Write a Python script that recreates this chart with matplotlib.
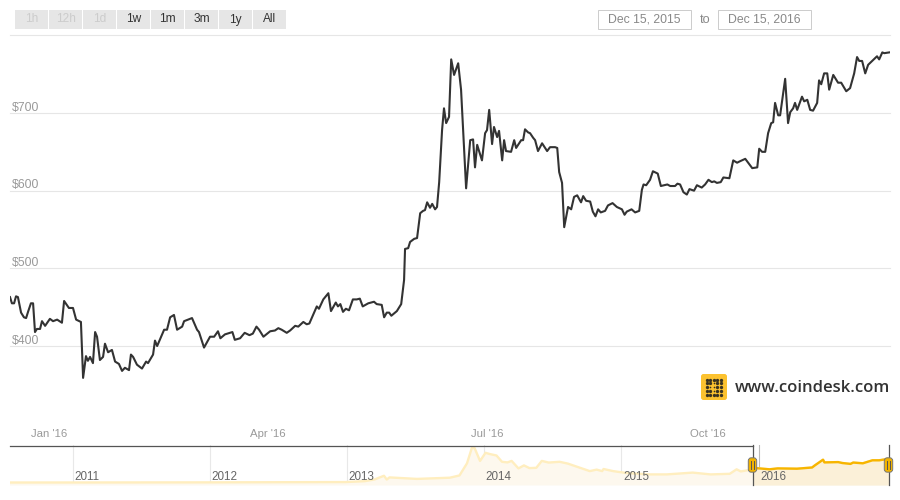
import numpy as np
import matplotlib
matplotlib.use("Agg")
import matplotlib.pyplot as plt
from matplotlib.patches import Rectangle, FancyBboxPatch
from matplotlib.transforms import blended_transform_factory

plt.rcParams["font.family"] = ["Liberation Sans", "DejaVu Sans"]

# days since Dec 15, 2015 and USD price
days = [0, .8, 1.7, 2.5, 3.3, 4.6, 5.8, 6.7, 7.5, 8.7, 9.6, 10.4, 11.2, 12.5, 13.3, 14.6, 16.6, 17.9, 19.6, 21.6,
        22.5, 24.5, 26.2, 27.5, 29.5, 30.4, 31.6, 32.4, 33.3, 34.5, 35.4, 36.2, 37.4, 38.7, 39.5, 40.8, 42.4, 43.7,
        45.3, 46.6, 47.8, 49.5, 50.3, 51.2, 52.8, 54.9, 56.6, 57.4, 59.5, 60.3, 61.2, 64.1, 65.3, 66.6, 68.2, 69.5,
        71.6, 72.4, 75.7, 77.8, 78.6, 80.7,
        83.2, 84.9, 86.5, 87.5, 89.4, 92.5, 93.5, 95.7, 97.6, 99.6, 101, 102.5, 103.6, 105.4, 108.2, 110.2, 111.6, 113,
        115.1, 116.5, 118.6, 119.9, 122, 123.4, 124.5, 127.6, 128.5, 130.3, 132.4, 133.5, 135.5, 136.4, 137.4, 138.5,
        139.7, 141, 142.6, 144.2, 145.5, 146.7, 149, 151.4, 152.5, 154.6, 155.6, 156.7, 157.7, 158.6, 160.9, 162.7,
        163.4, 163.9, 164.3, 165.6, 166.4, 168.1, 169.3, 170.6, 171.8, 172.6, 173.5, 174.7, 175.6,
        176.8, 177.6, 178.5, 179.7, 180.5, 181.4, 182.6, 183.5, 184.7, 186.4, 187.6, 189.7, 191.4, 192.6, 193.4, 194.3,
        196.3, 197.6, 198.4, 199.3, 200.5, 201.3, 202.6, 203.4, 204.7, 205.5, 206.3, 208.4, 209.7, 210.5, 212.6, 213.4,
        214.2, 215.5, 216.3, 217.6, 218.4, 219.6, 221.3, 223.4, 224.6, 226.7, 227.6, 228.4, 229.6, 230.5, 232.1, 233.4,
        234.6, 235.9, 237.5, 238.4, 239.6,
        241.3, 242.4, 243.5, 244.6, 245.7, 247.5, 248.7, 250.6, 252.4, 254.5, 255.6, 256.5, 258.5, 260, 261.7, 262.8,
        263.5, 264.6, 266.2, 267.4, 269.4, 270.7, 273.4, 274.6, 276.6, 277.6, 278.7, 280.1, 281.5, 282.6, 284.5, 285.7,
        287.7, 289.1, 290.5, 291.9, 292.9, 294, 295.6, 296.7, 299.2,
        300.8, 302.4, 303.7, 305.8, 307, 308.7, 310.8, 311.6, 312.8, 314.1, 315.3, 316.6, 317.4, 318.2,
        319.5, 320.3, 322.4, 323.6, 324.5, 325.7, 326.5, 327.4, 329.4, 330.3, 331.6, 332.8, 334, 335.7, 336.5, 337.4,
        338.6, 339.9, 340.7, 342.4, 344.4, 345.7, 347.8, 349.4, 351.1, 352.3, 353.2, 354.4, 355.7, 356.9, 360.6, 361.5,
        362.8, 363.6, 365.7]
price = [463, 455, 455, 464, 463, 443, 437, 436, 444, 455, 455, 418, 422, 422, 432, 426, 435, 432, 434, 430,
         458, 449, 449, 434, 431, 359, 387, 381, 386, 378, 418, 412, 382, 386, 403, 392, 395, 380,
         377, 368, 372, 369, 389, 386, 376, 371, 380, 378, 389, 407, 400, 421, 421, 437, 440, 421,
         425, 432, 436, 421, 418, 398,
         412, 412, 419, 410, 415, 418, 408, 410, 417, 414, 416, 425, 421, 412, 419, 420, 423, 421,
         417, 420, 426, 425, 431, 428, 429, 451, 448, 460, 468, 445, 456, 451, 454, 444,
         448, 446, 460, 460, 461, 451, 455, 457, 454, 453, 437, 443, 443, 439, 445, 454,
         472, 485, 525, 526, 534, 538, 539, 571, 574, 575, 585, 578, 583,
         576, 579, 611, 678, 706, 687, 695, 769, 749, 764, 730, 603, 665, 666, 630, 659,
         639, 674, 678, 704, 660, 682, 669, 677, 639, 665, 651, 650, 665, 655, 665, 665,
         679, 675, 674, 668, 665, 651, 661, 651, 656, 656, 655, 624, 610, 553, 579, 576,
         592, 594, 585, 593, 587,
         586, 573, 567, 576, 572, 574, 581, 584, 579, 576, 569, 573, 576, 572, 574, 601,
         608, 607, 614, 625, 622, 606, 608, 606, 606, 609, 608, 598, 595, 602, 600, 607,
         604, 608, 614, 611, 612, 610, 611, 617, 616,
         639, 636, 638, 641, 636, 629, 630, 654, 650, 650, 674, 687, 688, 713,
         697, 697, 744, 687, 701, 706, 713, 704, 721, 715, 717, 704, 703, 713, 742, 737,
         751, 751, 730, 749, 739, 739, 728, 732, 751, 772, 767, 767, 751, 762, 773, 769,
         778, 777, 778]

y_ticks = [400, 500, 600, 700, 800]
y_labels = ["$400", "$500", "$600", "$700"]
month_days = [17, 108, 199, 291]
month_labels = ["Jan '16", "Apr '16", "Jul '16", "Oct '16"]

# navigator, whole history
nav_years = [2010.54, 2011, 2012, 2012.99, 2013.13, 2013.2, 2013.27, 2013.29, 2013.31, 2013.51, 2013.75, 2013.82,
             2013.875, 2013.91, 2013.93, 2013.97, 2014.01, 2014.04, 2014.09, 2014.13, 2014.17, 2014.2, 2014.25,
             2014.29, 2014.33, 2014.38, 2014.42, 2014.47, 2014.55, 2014.61, 2014.68, 2014.77, 2014.82, 2014.86,
             2014.87, 2014.94, 2015.04, 2015.21, 2015.33, 2015.52, 2015.65, 2015.79, 2015.84, 2015.87, 2015.95,
             2015.98, 2016.08, 2016.14, 2016.28, 2016.39, 2016.41, 2016.47, 2016.48, 2016.58, 2016.61, 2016.67,
             2016.69, 2016.76, 2016.83, 2016.88, 2016.947]
nav_price = [0, 1, 5, 15, 45, 100, 225, 100, 170, 120, 160, 235,
             640, 1150, 1150, 720, 990, 950, 900, 690, 670, 720, 470,
             570, 480, 490, 720, 665, 690, 630, 520, 380, 430, 380,
             450, 380, 315, 270, 270, 330, 270, 290, 440, 370, 430,
             480, 440, 470, 460, 500, 570, 760, 670, 680, 650, 620,
             665, 640, 740, 740, 790]
nav_ticks = [2011, 2012, 2013, 2014, 2015, 2016]
sel_start, sel_end = 2015.956, 2016.947


def px_axes(fig, x0, y0, x1, y1):
    # axes from pixel box, y counted from the top
    return fig.add_axes([x0 / 900, 1 - y1 / 500, (x1 - x0) / 900, (y1 - y0) / 500])


fig = plt.figure(figsize=(9, 5), dpi=100, facecolor="white")

# main chart
ax = px_axes(fig, 10, 35, 890, 445)
ax.set_xlim(0, 366)
ax.set_ylim(272.6, 800.4)
ax.axis("off")
for t in y_ticks:
    ax.axhline(t, color="#e6e6e6", lw=0.8, zorder=1, clip_on=False)
ax.plot(days, price, color="#333333", lw=1.5, solid_joinstyle="round", zorder=3)
for t, lab in zip(y_ticks, y_labels):
    ax.text(0.9, t + 7, lab, color="#999999", fontsize=8.8, ha="left", va="center")
for d, lab in zip(month_days, month_labels):
    ax.text(d - 0.7, 287, lab, color="#999999", fontsize=8.2, ha="center", va="center")

# navigator
nav = px_axes(fig, 10, 445, 890, 485)
nav.set_xlim(2010.544, 2016.958)
nav.set_ylim(-83, 1250)
nav.axis("off")
for y in nav_ticks:
    nav.axvline(y, color="#bbbbbb" if y == 2016 else "#e8e8e8", lw=0.8, zorder=1)
nav.fill_between(nav_years, nav_price, -83, color="#fdf8ee", lw=0, zorder=2)
nav.plot(nav_years, nav_price, color="#ffeebf", lw=1.7, zorder=3)
sel_clip = Rectangle((sel_start, -83), sel_end - sel_start, 1333, transform=nav.transData)
sel_fill = nav.fill_between(nav_years, nav_price, -83, color="#fbf0d8", lw=0, zorder=2.5)
sel_fill.set_clip_path(sel_clip)
sel_line, = nav.plot(nav_years, nav_price, color="#f7b500", lw=1.7, zorder=4)
sel_line.set_clip_path(sel_clip)
trans = blended_transform_factory(nav.transData, nav.transData)
for y in nav_ticks:
    nav.text(y + 0.012, 183, str(y), color="#666666", fontsize=8.4, ha="left", va="center", zorder=5, transform=trans)

# page furniture, in pixels
over = fig.add_axes([0, 0, 1, 1], zorder=5)
over.set_xlim(0, 900)
over.set_ylim(500, 0)
over.axis("off")

buttons = ["1h", "12h", "1d", "1w", "1m", "3m", "1y", "All"]
btn_left = [15, 49, 83, 117, 151, 185, 219, 253]
for i, (lab, x) in enumerate(zip(buttons, btn_left)):
    over.add_patch(Rectangle((x, 10), 33, 19, fc="#e6e6e6", ec="none"))
    over.text(x + 16.5, 19.5, lab, fontsize=8.6, ha="center", va="center", color="#cccccc" if i < 3 else "#333333")

for x, lab in zip([598, 718], ["Dec 15, 2015", "Dec 15, 2016"]):
    over.add_patch(Rectangle((x - 0.5, 9.5), 93, 19, fc="white", ec="#cccccc", lw=0.7))
    over.text(x + 46, 19.5, lab, fontsize=8.8, ha="center", va="center", color="#888888")
over.text(705, 20, "to", fontsize=9.2, ha="center", va="center", color="#888888")

# selection edges
over.plot([10, 752.5], [445.5, 445.5], color="#555555", lw=0.9)
for x in [752.5, 888.5]:
    over.plot([x, x], [445, 485], color="#555555", lw=0.9)
    over.add_patch(FancyBboxPatch((x - 3, 459), 6, 12, boxstyle="round,pad=1.2,rounding_size=3",
                                  fc="#f2b300", ec="#777777", lw=0.7, zorder=6))
    for dx in [-1.2, 1.2]:
        over.plot([x + dx, x + dx], [461, 469], color="#555555", lw=0.7, zorder=7)

# logo
over.add_patch(FancyBboxPatch((703, 376), 22, 22, boxstyle="round,pad=2,rounding_size=2.5", fc="#fcc22f", ec="none"))
logo_rows = [[1, 1, 1, 1, 1], [1, 1, 0, 1, 1], [1, 0, 0, 1, 1], [1, 1, 0, 1, 1], [1, 1, 1, 1, 1]]
for r, row in enumerate(logo_rows):
    for c, on in enumerate(row):
        over.plot(706.5 + c * 3.6, 379.5 + r * 3.9, "o", ms=2.4 if on else 1.2, color="#3a3320", mew=0)
over.text(890.5, 387.5, "www.coindesk.com", fontsize=12, family=["Open Sans", "DejaVu Sans"], weight="semibold",
          color="#333333", ha="right", va="center")

fig.savefig("out.png", dpi=100)
